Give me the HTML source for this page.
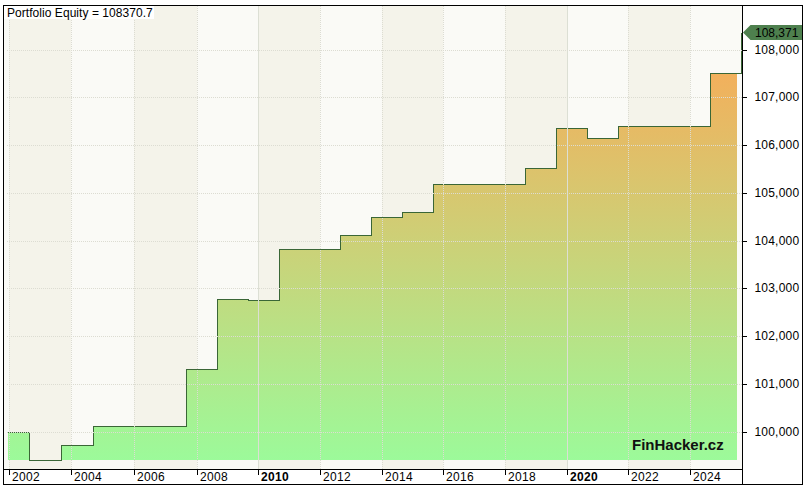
<!DOCTYPE html>
<html><head><meta charset="utf-8"><style>
html,body{margin:0;padding:0;background:#fff;}
svg{display:block}
text{font-family:"Liberation Sans",Arial,sans-serif;}
</style></head><body>
<svg width="806" height="489" viewBox="0 0 806 489">
<defs>
<linearGradient id="g" gradientUnits="userSpaceOnUse" x1="0" y1="73" x2="0" y2="460">
<stop offset="0" stop-color="#f2b05c"/>
<stop offset="1" stop-color="#9cfa9a"/>
</linearGradient>
</defs>
<rect x="0" y="0" width="806" height="489" fill="#fff"/>

<rect x="4" y="6" width="738" height="463" fill="#fafaf6"/>
<rect x="9" y="6" width="62" height="463" fill="#f4f3ea"/>
<rect x="134" y="6" width="63" height="463" fill="#f4f3ea"/>
<rect x="258" y="6" width="62" height="463" fill="#f4f3ea"/>
<rect x="382" y="6" width="61" height="463" fill="#f4f3ea"/>
<rect x="505" y="6" width="62" height="463" fill="#f4f3ea"/>
<rect x="628" y="6" width="62" height="463" fill="#f4f3ea"/>
<rect x="8" y="433" width="21" height="27" fill="url(#g)"/>
<rect x="61" y="446" width="32" height="14" fill="url(#g)"/>
<rect x="93" y="427" width="93" height="33" fill="url(#g)"/>
<rect x="186" y="370" width="31" height="90" fill="url(#g)"/>
<rect x="217" y="300" width="31" height="160" fill="url(#g)"/>
<rect x="248" y="301" width="31" height="159" fill="url(#g)"/>
<rect x="279" y="250" width="61" height="210" fill="url(#g)"/>
<rect x="340" y="236" width="31" height="224" fill="url(#g)"/>
<rect x="371" y="218" width="31" height="242" fill="url(#g)"/>
<rect x="402" y="213" width="31" height="247" fill="url(#g)"/>
<rect x="433" y="185" width="92" height="275" fill="url(#g)"/>
<rect x="525" y="169" width="31" height="291" fill="url(#g)"/>
<rect x="556" y="129" width="31" height="331" fill="url(#g)"/>
<rect x="587" y="139" width="31" height="321" fill="url(#g)"/>
<rect x="618" y="127" width="92" height="333" fill="url(#g)"/>
<rect x="710" y="74" width="27" height="386" fill="url(#g)"/>
<path d="M8 432.5 H29.5 V460.5 H61.5 V445.5 H93.5 V426.5 H186.5 V369.5 H217.5 V299.5 H248.5 V300.5 H279.5 V249.5 H340.5 V235.5 H371.5 V217.5 H402.5 V212.5 H433.5 V184.5 H525.5 V168.5 H556.5 V128.5 H587.5 V138.5 H618.5 V126.5 H710.5 V73.5 H741.5 V32.5" fill="none" stroke="#3a6636" stroke-width="1" shape-rendering="crispEdges"/>
<g shape-rendering="crispEdges"><line x1="9.5" y1="6" x2="9.5" y2="469" stroke="#dcdcd2" stroke-width="1" stroke-dasharray="1 1"/><line x1="71.5" y1="6" x2="71.5" y2="469" stroke="#dcdcd2" stroke-width="1" stroke-dasharray="1 1"/><line x1="134.5" y1="6" x2="134.5" y2="469" stroke="#dcdcd2" stroke-width="1" stroke-dasharray="1 1"/><line x1="197.5" y1="6" x2="197.5" y2="469" stroke="#dcdcd2" stroke-width="1" stroke-dasharray="1 1"/><line x1="258.5" y1="6" x2="258.5" y2="469" stroke="#dcdfd4" stroke-width="1"/><line x1="320.5" y1="6" x2="320.5" y2="469" stroke="#dcdcd2" stroke-width="1" stroke-dasharray="1 1"/><line x1="382.5" y1="6" x2="382.5" y2="469" stroke="#dcdcd2" stroke-width="1" stroke-dasharray="1 1"/><line x1="443.5" y1="6" x2="443.5" y2="469" stroke="#dcdcd2" stroke-width="1" stroke-dasharray="1 1"/><line x1="505.5" y1="6" x2="505.5" y2="469" stroke="#dcdcd2" stroke-width="1" stroke-dasharray="1 1"/><line x1="567.5" y1="6" x2="567.5" y2="469" stroke="#dcdfd4" stroke-width="1"/><line x1="628.5" y1="6" x2="628.5" y2="469" stroke="#dcdcd2" stroke-width="1" stroke-dasharray="1 1"/><line x1="690.5" y1="6" x2="690.5" y2="469" stroke="#dcdcd2" stroke-width="1" stroke-dasharray="1 1"/><line x1="7" y1="50.5" x2="742" y2="50.5" stroke="#dcdcd2" stroke-width="1" stroke-dasharray="1 1"/><line x1="7" y1="97.5" x2="742" y2="97.5" stroke="#dcdcd2" stroke-width="1" stroke-dasharray="1 1"/><line x1="7" y1="145.5" x2="742" y2="145.5" stroke="#dcdcd2" stroke-width="1" stroke-dasharray="1 1"/><line x1="7" y1="193.5" x2="742" y2="193.5" stroke="#dcdcd2" stroke-width="1" stroke-dasharray="1 1"/><line x1="7" y1="241.5" x2="742" y2="241.5" stroke="#dcdcd2" stroke-width="1" stroke-dasharray="1 1"/><line x1="7" y1="288.5" x2="742" y2="288.5" stroke="#dcdcd2" stroke-width="1" stroke-dasharray="1 1"/><line x1="7" y1="336.5" x2="742" y2="336.5" stroke="#dcdcd2" stroke-width="1" stroke-dasharray="1 1"/><line x1="7" y1="384.5" x2="742" y2="384.5" stroke="#dcdcd2" stroke-width="1" stroke-dasharray="1 1"/><line x1="7" y1="432.5" x2="742" y2="432.5" stroke="#dcdcd2" stroke-width="1" stroke-dasharray="1 1"/></g>
<rect x="4" y="6" width="150" height="13" fill="#fff"/>
<text x="7" y="16.5" font-size="12" letter-spacing="0.05" fill="#000">Portfolio Equity = 108370.7</text>
<rect x="743" y="6" width="59" height="478" fill="#fff"/>
<rect x="4" y="470" width="738" height="14" fill="#fff"/>
<g shape-rendering="crispEdges"><rect x="3.5" y="5.5" width="799" height="479" fill="none" stroke="#000"/><line x1="742.5" y1="5" x2="742.5" y2="485" stroke="#000"/><line x1="3" y1="469.5" x2="742" y2="469.5" stroke="#000"/><line x1="743" y1="50.5" x2="747" y2="50.5" stroke="#000"/><line x1="743" y1="97.5" x2="747" y2="97.5" stroke="#000"/><line x1="743" y1="145.5" x2="747" y2="145.5" stroke="#000"/><line x1="743" y1="193.5" x2="747" y2="193.5" stroke="#000"/><line x1="743" y1="241.5" x2="747" y2="241.5" stroke="#000"/><line x1="743" y1="288.5" x2="747" y2="288.5" stroke="#000"/><line x1="743" y1="336.5" x2="747" y2="336.5" stroke="#000"/><line x1="743" y1="384.5" x2="747" y2="384.5" stroke="#000"/><line x1="743" y1="432.5" x2="747" y2="432.5" stroke="#000"/><line x1="9.5" y1="470" x2="9.5" y2="475" stroke="#000"/><line x1="71.5" y1="470" x2="71.5" y2="475" stroke="#000"/><line x1="134.5" y1="470" x2="134.5" y2="475" stroke="#000"/><line x1="197.5" y1="470" x2="197.5" y2="475" stroke="#000"/><line x1="258.5" y1="470" x2="258.5" y2="475" stroke="#000"/><line x1="320.5" y1="470" x2="320.5" y2="475" stroke="#000"/><line x1="382.5" y1="470" x2="382.5" y2="475" stroke="#000"/><line x1="443.5" y1="470" x2="443.5" y2="475" stroke="#000"/><line x1="505.5" y1="470" x2="505.5" y2="475" stroke="#000"/><line x1="567.5" y1="470" x2="567.5" y2="475" stroke="#000"/><line x1="628.5" y1="470" x2="628.5" y2="475" stroke="#000"/><line x1="690.5" y1="470" x2="690.5" y2="475" stroke="#000"/></g>
<text x="754.5" y="53.5" font-size="12" letter-spacing="0.2" fill="#000">108,000</text>
<text x="754.5" y="100.5" font-size="12" letter-spacing="0.2" fill="#000">107,000</text>
<text x="754.5" y="148.5" font-size="12" letter-spacing="0.2" fill="#000">106,000</text>
<text x="754.5" y="196.5" font-size="12" letter-spacing="0.2" fill="#000">105,000</text>
<text x="754.5" y="244.5" font-size="12" letter-spacing="0.2" fill="#000">104,000</text>
<text x="754.5" y="291.5" font-size="12" letter-spacing="0.2" fill="#000">103,000</text>
<text x="754.5" y="339.5" font-size="12" letter-spacing="0.2" fill="#000">102,000</text>
<text x="754.5" y="387.5" font-size="12" letter-spacing="0.2" fill="#000">101,000</text>
<text x="754.5" y="435.5" font-size="12" letter-spacing="0.2" fill="#000">100,000</text>
<text x="12" y="481" font-size="12" letter-spacing="0.33" fill="#000">2002</text>
<text x="74" y="481" font-size="12" letter-spacing="0.33" fill="#000">2004</text>
<text x="137" y="481" font-size="12" letter-spacing="0.33" fill="#000">2006</text>
<text x="200" y="481" font-size="12" letter-spacing="0.33" fill="#000">2008</text>
<text x="261" y="481" font-size="12" letter-spacing="0.33" fill="#000" font-weight="bold">2010</text>
<text x="323" y="481" font-size="12" letter-spacing="0.33" fill="#000">2012</text>
<text x="385" y="481" font-size="12" letter-spacing="0.33" fill="#000">2014</text>
<text x="446" y="481" font-size="12" letter-spacing="0.33" fill="#000">2016</text>
<text x="508" y="481" font-size="12" letter-spacing="0.33" fill="#000">2018</text>
<text x="570" y="481" font-size="12" letter-spacing="0.33" fill="#000" font-weight="bold">2020</text>
<text x="631" y="481" font-size="12" letter-spacing="0.33" fill="#000">2022</text>
<text x="693" y="481" font-size="12" letter-spacing="0.33" fill="#000">2024</text>
<polygon points="743,32.5 750.5,25 802,25 802,40 750.5,40" fill="#4e804e"/>
<text x="755" y="36.5" font-size="12" fill="#000">108,371</text>
<text x="632" y="450" font-size="15" font-weight="bold" fill="#111">FinHacker.cz</text>
</svg></body></html>
